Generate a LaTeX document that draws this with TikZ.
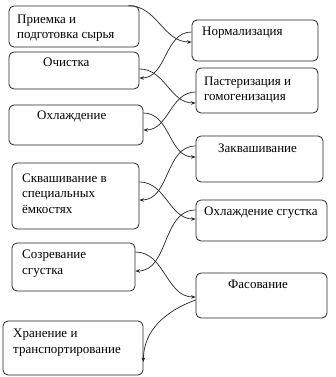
\documentclass[tikz,border=0pt]{standalone}
\usepackage{fontspec}
\setmainfont{Liberation Serif}
\usetikzlibrary{arrows.meta}
\begin{document}
\begin{tikzpicture}[x=1pt,y=-1pt,
  box/.style={draw=black!85,line width=0.8pt,rounded corners=5pt,inner sep=0pt},
  lbl/.style={anchor=base west,inner sep=0pt,align=left,font=\fontsize{13}{15.5}\selectfont},
  conn/.style={draw=black!85,line width=0.7pt,-{Stealth[length=4.5pt,width=3.5pt]}}]
\useasboundingbox (0,0) rectangle (335,377);
% left boxes
\node[box,minimum width=130pt,minimum height=41pt] (A) at (74,26.5) {};
\node[box,minimum width=130pt,minimum height=37pt] (B) at (74,70.5) {};
\node[box,minimum width=134pt,minimum height=40pt] (C) at (76,125) {};
\node[box,minimum width=127pt,minimum height=66pt] (D) at (75.5,196) {};
\node[box,minimum width=123pt,minimum height=48pt] (E) at (73.5,267) {};
\node[box,minimum width=140pt,minimum height=54pt] (F) at (73,348) {};
% right boxes
\node[box,minimum width=126pt,minimum height=41pt] (G) at (255,40.5) {};
\node[box,minimum width=122pt,minimum height=45pt] (H) at (257,90.5) {};
\node[box,minimum width=127pt,minimum height=46pt] (I) at (259.5,159) {};
\node[box,minimum width=131pt,minimum height=41pt] (J) at (261.5,220.5) {};
\node[box,minimum width=131pt,minimum height=45pt] (K) at (261.5,295.5) {};
% texts (anchor = baseline of the last line)
\node[lbl] (tA) at (17,39) {Приемка и\\подготовка сырья};
\node[lbl] (tB) at (43,67) {Очистка};
\node[lbl] (tC) at (37,120) {Охлаждение};
\node[lbl] (tD) at (22,213) {Сквашивание в\\специальных\\ёмкостях};
\node[lbl] (tE) at (22,274) {Созревание\\сгустка};
\node[lbl] (tF) at (13,353) {Хранение и\\транспортирование};
\node[lbl] (tG) at (202,36) {Нормализация};
\node[lbl] (tH) at (204,101) {Пастеризация и\\гомогенизация};
\node[lbl] (tI) at (218,152) {Заквашивание};
\node[lbl] (tJ) at (204,215) {Охлаждение сгустка};
\node[lbl] (tK) at (228,288) {Фасование};
% connectors
\draw[conn] ([xshift=-11pt]A.north east) to[out=0,in=180] ([yshift=-1.5pt]G.west);
\draw[conn] ([yshift=8.5pt]G.west) to[out=180,in=0] ([yshift=-7.5pt]B.east);
\draw[conn] ([yshift=1.5pt]B.east) to[out=0,in=180] ([yshift=-12.5pt]H.west);
\draw[conn] ([yshift=-1.5pt]H.west) to[out=180,in=0] ([yshift=-5pt]C.east);
\draw[conn] ([yshift=12pt]C.east) to[out=0,in=180] ([yshift=2pt]I.west);
\draw[conn] ([yshift=13pt]I.west) to[out=180,in=0] ([yshift=-4pt]D.east);
\draw[conn] ([yshift=14pt]D.east) to[out=0,in=180] ([yshift=1.5pt]J.west);
\draw[conn] ([yshift=10.5pt]J.west) to[out=180,in=0] ([yshift=-4pt]E.east);
\draw[conn] ([yshift=15pt]E.east) to[out=0,in=180] ([yshift=-1.5pt]K.west);
\draw[conn] ([yshift=-4.5pt]K.west) to[out=200,in=90] ([yshift=-14pt]F.east);
\end{tikzpicture}
\end{document}
